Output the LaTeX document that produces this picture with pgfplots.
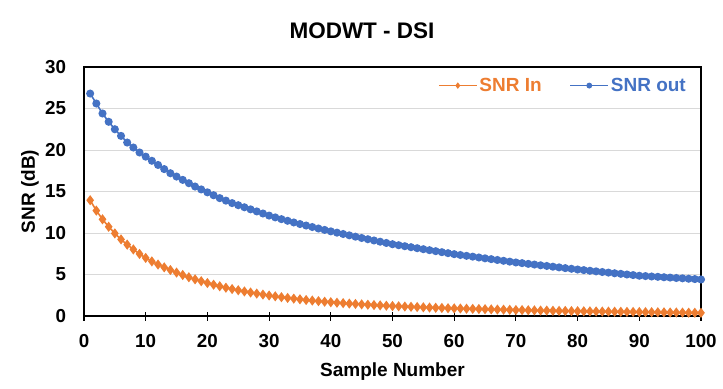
\documentclass[border=0pt]{standalone}
\usepackage{pgfplots}
\usepackage{pgfplotstable}
\pgfplotsset{compat=1.18}
\usepackage{fontspec}
\setmainfont{Liberation Sans}
\definecolor{xlorange}{HTML}{ED7D31}
\definecolor{xlblue}{HTML}{4472C4}
\definecolor{gridgray}{HTML}{D9D9D9}
\pgfplotstableread{
n in out
1 13.95 26.8
2 12.70 25.6
3 11.65 24.4
4 10.75 23.4
5 9.95 22.5
6 9.23 21.7
7 8.60 20.9
8 8.02 20.3
9 7.48 19.7
10 7.00 19.2
11 6.58 18.7
12 6.20 18.2
13 5.86 17.7
14 5.54 17.2
15 5.23 16.8
16 4.94 16.4
17 4.67 16.0
18 4.42 15.6
19 4.19 15.25
20 3.97 14.9
21 3.77 14.55
22 3.58 14.2
23 3.41 13.9
24 3.25 13.6
25 3.10 13.35
26 2.96 13.1
27 2.83 12.85
28 2.70 12.6
29 2.58 12.35
30 2.47 12.1
31 2.37 11.88
32 2.27 11.67
33 2.18 11.47
34 2.09 11.27
35 2.01 11.08
36 1.93 10.9
37 1.86 10.72
38 1.79 10.54
39 1.72 10.37
40 1.66 10.2
41 1.60 10.04
42 1.55 9.88
43 1.50 9.72
44 1.45 9.56
45 1.40 9.4
46 1.36 9.25
47 1.32 9.1
48 1.28 8.95
49 1.24 8.8
50 1.20 8.65
51 1.17 8.53
52 1.14 8.41
53 1.11 8.29
54 1.08 8.17
55 1.05 8.05
56 1.02 7.93
57 0.99 7.81
58 0.97 7.69
59 0.94 7.57
60 0.92 7.45
61 0.90 7.35
62 0.88 7.25
63 0.86 7.15
64 0.84 7.05
65 0.82 6.95
66 0.80 6.85
67 0.78 6.75
68 0.76 6.65
69 0.74 6.55
70 0.72 6.45
71 0.71 6.37
72 0.69 6.28
73 0.68 6.2
74 0.66 6.11
75 0.65 6.03
76 0.63 5.94
77 0.62 5.86
78 0.61 5.77
79 0.59 5.69
80 0.58 5.6
81 0.57 5.53
82 0.56 5.45
83 0.55 5.38
84 0.54 5.3
85 0.53 5.23
86 0.52 5.15
87 0.51 5.08
88 0.50 5.0
89 0.49 4.93
90 0.48 4.85
91 0.47 4.81
92 0.46 4.76
93 0.45 4.72
94 0.44 4.67
95 0.43 4.63
96 0.42 4.58
97 0.41 4.54
98 0.40 4.49
99 0.39 4.45
100 0.38 4.4
}\datatable
\begin{document}
\begin{tikzpicture}
\begin{axis}[
  scale only axis,
  width=617bp, height=249bp,
  xmin=0, xmax=100, ymin=0, ymax=30,
  xtick={0,10,...,100}, ytick={0,5,...,30},
  axis line style={black, line width=1.1bp},
  ymajorgrids, grid style={gridgray, line width=1bp},
  tick align=center,
  xtick pos=bottom,
  major tick length=9bp,
  xtick style={black, line width=1.1bp},
  ytick style={draw=none},
  /pgf/number format/assume math mode=true,
  ticklabel style={font=\bfseries\fontsize{18.8bp}{21bp}\selectfont},
  xticklabel style={yshift=-10bp},
  yticklabel style={xshift=-10bp},
  xlabel={Sample Number},
  ylabel={SNR (dB)},
  label style={font=\bfseries\fontsize{19bp}{22bp}\selectfont},
  xlabel style={at={(axis description cs:0.5,-0.241)}, anchor=base},
  ylabel style={at={(axis description cs:-0.0875,0.5)}, anchor=center},
  legend columns=2,
  legend style={draw=none, fill=none, at={(axis description cs:1,1)}, anchor=north east,
    xshift=-10bp, yshift=-7bp,
    font=\bfseries\fontsize{19bp}{21bp}\selectfont,
    nodes={inner sep=2bp},
    /tikz/every even column/.append style={column sep=26bp}},
  legend image code/.code={\draw[mark repeat=2,mark phase=2,#1,mark size=2.3bp,line width=1.2bp] plot coordinates {(0bp,0bp) (19bp,0bp) (38bp,0bp)};},
]
\addplot[xlorange, line width=1.6bp, mark=diamond*, mark size=3.8bp, mark options={solid}] table[x=n,y=in]{\datatable};
\addlegendentry{\textcolor{xlorange}{SNR In}}
\addplot[xlblue, line width=1.6bp, mark=*, mark size=3.2bp, mark options={solid}] table[x=n,y=out]{\datatable};
\addlegendentry{\textcolor{xlblue}{SNR out}}
\end{axis}
\node[anchor=base, font=\bfseries\fontsize{22.5bp}{25bp}\selectfont] at ([xshift=278bp,yshift=29bp]current axis.north west) {MODWT - DSI};
\path ([xshift=-84bp,yshift=-73bp]current axis.south west) rectangle ([xshift=22bp,yshift=67bp]current axis.north east);
\end{tikzpicture}
\end{document}
